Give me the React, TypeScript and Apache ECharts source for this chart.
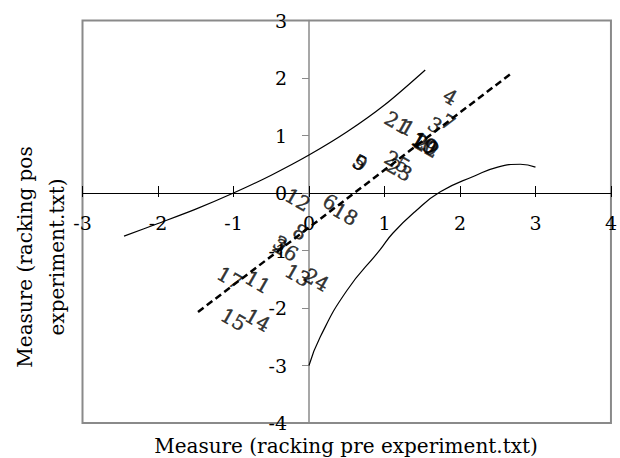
import React, { useEffect, useRef } from "react";
import * as echarts from "echarts";

const xTicks = { min: -3, max: 4, interval: 1 };
const yTicks = { min: -4, max: 3, interval: 1 };

const pointLabels = ["4", "21", "1", "3", "7", "19", "10", "20", "22", "9", "5", "25", "23", "12", "6", "18", "8", "3", "26", "17", "11", "13", "24", "15", "14"];
const pointX = [1.87, 1.17, 1.31, 1.67, 1.84, 1.53, 1.52, 1.55, 1.56, 0.68, 0.67, 1.17, 1.2, -0.15, 0.28, 0.48, -0.12, -0.38, -0.31, -1.05, -0.68, -0.15, 0.1, -1.0, -0.68];
const pointY = [1.67, 1.22, 1.13, 1.18, 1.23, 0.87, 0.86, 0.84, 0.81, 0.52, 0.53, 0.54, 0.4, -0.12, -0.16, -0.37, -0.68, -0.88, -0.99, -1.48, -1.55, -1.43, -1.51, -2.2, -2.21];

const fitX = [-1.47, 2.69];
const fitY = [-2.07, 2.09];

const upperX = [-2.45, -2.0, -1.5, -1.0, -0.5, 0, 0.5, 1.0, 1.54];
const upperY = [-0.75, -0.53, -0.28, 0.0, 0.31, 0.66, 1.06, 1.53, 2.14];

const lowerX = [0, 0.15, 0.5, 0.94, 1.11, 1.4, 1.74, 2.2, 2.5, 2.8, 3.0];
const lowerY = [-3.0, -2.5, -1.7, -0.99, -0.7, -0.33, 0.02, 0.3, 0.45, 0.5, 0.45];

const xTitle = "Measure (racking pre experiment.txt)";
const yTitle = "Measure (racking pos\nexperiment.txt)";

const FONT = "DejaVu Serif";

const W = 620;
const H = 458;
const GRID = { left: 82.5, right: 9, top: 20.5, bottom: 35 };

export default function App() {
  const ref = useRef<HTMLDivElement>(null);
  useEffect(() => {
    if (!ref.current) return;
    const chart = echarts.init(ref.current, null, { renderer: "svg" });
    const pts = pointX.map((x, i) => ({ value: [x, pointY[i]], name: pointLabels[i] }));
    const pairs = (xs: number[], ys: number[]) => xs.map((x, i) => [x, ys[i]]);
    const gw = W - GRID.left - GRID.right;
    const gh = H - GRID.top - GRID.bottom;
    // place the axes where the other axis is zero
    const xAxisOffset = -gh * (0 - yTicks.min) / (yTicks.max - yTicks.min);
    const yAxisOffset = -gw * (0 - xTicks.min) / (xTicks.max - xTicks.min);
    const xBase = {
      type: "value",
      position: "bottom",
      min: xTicks.min,
      max: xTicks.max,
      interval: xTicks.interval,
      offset: xAxisOffset,
      splitLine: { show: false },
    };
    chart.setOption({
      animation: false,
      grid: {
        ...GRID,
        show: true,
        borderColor: "#8a8a8a",
        borderWidth: 2,
        backgroundColor: "transparent",
      },
      xAxis: [
        {
          ...xBase,
          axisLine: { onZero: false, lineStyle: { color: "#000", width: 1 } },
          axisTick: { show: true, length: 4, lineStyle: { color: "#000" } },
          axisLabel: { margin: 20, fontSize: 19, fontFamily: FONT, color: "#000" },
        },
        {
          ...xBase,
          axisLine: { onZero: false, lineStyle: { color: "#000", width: 1 } },
          axisTick: { show: true, inside: true, length: 7, lineStyle: { color: "#000" } },
          axisLabel: { show: false },
        },
      ],
      yAxis: {
        type: "value",
        position: "left",
        min: yTicks.min,
        max: yTicks.max,
        interval: yTicks.interval,
        offset: yAxisOffset,
        axisLine: { onZero: false, lineStyle: { color: "#8a8a8a", width: 1.5 } },
        axisTick: { show: true, length: 7, lineStyle: { color: "#8a8a8a" } },
        axisLabel: { margin: 22, fontSize: 19, fontFamily: FONT, color: "#000" },
        splitLine: { show: false },
      },
      series: [
        {
          type: "line",
          data: pairs(upperX, upperY),
          showSymbol: false,
          smooth: 0.3,
          lineStyle: { color: "#000", width: 1.2 },
          silent: true,
        },
        {
          type: "line",
          data: pairs(lowerX, lowerY),
          showSymbol: false,
          smooth: 0.5,
          lineStyle: { color: "#000", width: 1.2 },
          silent: true,
        },
        {
          type: "line",
          data: pairs(fitX, fitY),
          showSymbol: false,
          lineStyle: { color: "#000", width: 2.5, type: [7, 4] },
          silent: true,
        },
        {
          type: "scatter",
          data: pts,
          symbolSize: 2,
          itemStyle: { color: "rgba(0,0,0,0)" },
          label: {
            show: true,
            position: "inside",
            formatter: "{b}",
            rotate: -30,
            fontSize: 20,
            fontFamily: FONT,
            color: "#000",
            textBorderColor: "#000",
            textBorderWidth: 0.4,
          },
          labelLayout: { hideOverlap: false },
          silent: true,
        },
      ],
      graphic: [
        {
          type: "text",
          x: 346,
          y: 446,
          style: {
            text: xTitle,
            fontSize: 20,
            fontFamily: FONT,
            fill: "#000",
            textAlign: "center",
            textVerticalAlign: "middle",
          },
        },
        {
          type: "text",
          x: 41,
          y: 257,
          rotation: Math.PI / 2,
          style: {
            text: yTitle,
            fontSize: 20,
            lineHeight: 32,
            fontFamily: FONT,
            fill: "#000",
            textAlign: "center",
            textVerticalAlign: "middle",
          },
        },
      ],
    });
    return () => chart.dispose();
  }, []);
  return <div ref={ref} style={{ position: "absolute", left: 0, top: 0, width: W, height: H }} />;
}
